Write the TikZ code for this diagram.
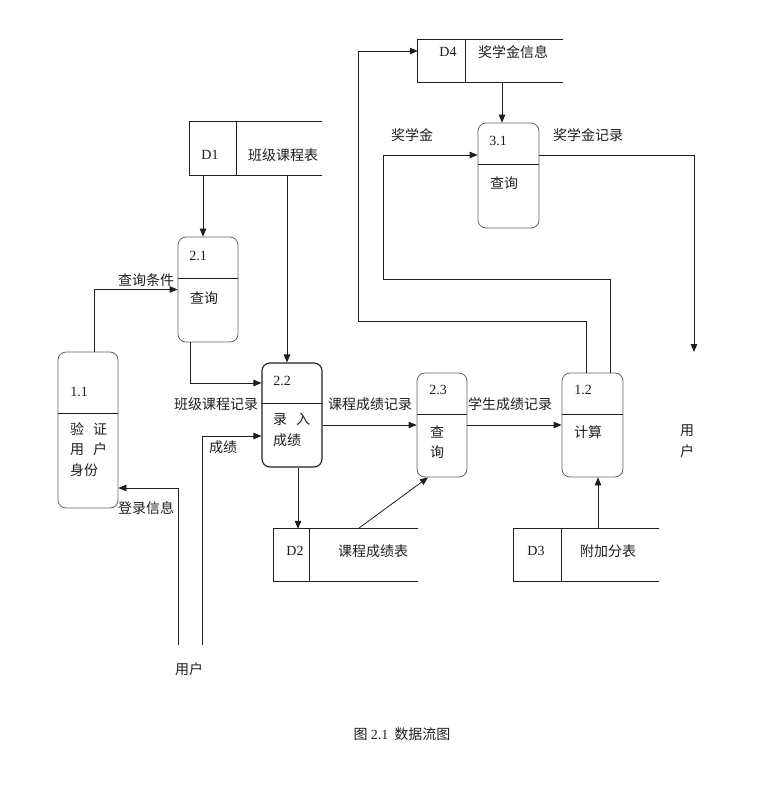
\documentclass[tikz,border=0pt]{standalone}
\usepackage{fontspec}
\setmainfont{Liberation Serif}
\newfontfamily\cjk{Noto Sans CJK SC}
\usetikzlibrary{arrows.meta, positioning}
\definecolor{line1}{RGB}{30,30,30}
\definecolor{box1}{RGB}{100,100,100}
\tikzset{
  proc/.style={draw=box1, rounded corners=8pt, inner sep=0pt, line width=0.8pt},
  store/.style={inner sep=0pt},
  flow/.style={draw=line1, line width=0.8pt, -{Triangle[length=8pt,width=6.5pt]}},
  edge1/.style={draw=line1, line width=0.8pt},
  num/.style={font=\fontsize{14}{20}\selectfont, text=line1, inner sep=0pt},
  zh/.style={font=\cjk\fontsize{14}{20.5}\selectfont, text=line1, inner sep=0pt},
}

\begin{document}
\begin{tikzpicture}[x=1pt, y=-1pt]
  \useasboundingbox (0,0) rectangle (772,788);

  % processes
  \node[proc, minimum width=60pt, minimum height=156pt] (p11) at (88,430) {};
  \node[proc, minimum width=60pt, minimum height=105pt] (p21) at (208,289.5) {};
  \node[proc, draw=line1, line width=1.1pt, minimum width=60pt, minimum height=104pt] (p22) at (292,415) {};
  \node[proc, minimum width=50pt, minimum height=104pt] (p23) at (442,425) {};
  \node[proc, minimum width=61pt, minimum height=104pt] (p12) at (592.5,425) {};
  \node[proc, minimum width=61pt, minimum height=105pt] (p31) at (508.5,175.5) {};
  \foreach \p/\dy in {p11/62, p21/42, p22/41, p23/42, p12/42, p31/42}
    \draw[edge1] ([yshift=-\dy pt]\p.north west) -- ([yshift=-\dy pt]\p.north east);

  % data stores
  \node[store, minimum width=132pt, minimum height=53pt] (d1) at (256,148.5) {};
  \node[store, minimum width=145pt, minimum height=42pt] (d4) at (490.5,61) {};
  \node[store, minimum width=144pt, minimum height=52pt] (d2) at (346,555) {};
  \node[store, minimum width=145pt, minimum height=52pt] (d3) at (586.5,555) {};
  \foreach \s/\dx in {d1/47, d4/48, d2/36, d3/48} {
    \draw[edge1] (\s.north east) -- (\s.north west) -- (\s.south west) -- (\s.south east);
    \draw[edge1] ([xshift=\dx pt]\s.north west) -- ([xshift=\dx pt]\s.south west);
  }

  % texts in boxes
  \node[num] (n11) at (79,392) {1.1};
  \node[zh, align=left, anchor=north west] (t11) at (70,422) {验\hspace{9pt}证\\用\hspace{9pt}户\\身份};
  \node[num] (n21) at (198,256) {2.1};
  \node[zh] (t21) at (204,298) {查询};
  \node[num] (n22) at (282,381) {2.2};
  \node[zh, align=left, anchor=north west] (t22) at (273,413) {录\hspace{9pt}入\\成绩};
  \node[num] (n23) at (438,390) {2.3};
  \node[zh, align=center] (t23) at (437,442) {查\\询};
  \node[num] (n12) at (583,390) {1.2};
  \node[zh] (t12) at (588,432) {计算};
  \node[num] (n31) at (498,141) {3.1};
  \node[zh] (t31) at (504,183) {查询};
  \node[num] (nd1) at (210,155) {D1};
  \node[zh] (td1) at (283,155) {班级课程表};
  \node[num] (nd4) at (448,52) {D4};
  \node[zh] (td4) at (513,52) {奖学金信息};
  \node[num] (nd2) at (295,551) {D2};
  \node[zh] (td2) at (373,551) {课程成绩表};
  \node[num] (nd3) at (536,551) {D3};
  \node[zh] (td3) at (608,551) {附加分表};

  % flow labels
  \node[zh] (l1) at (146,280) {查询条件};
  \node[zh] (l2) at (216,404) {班级课程记录};
  \node[zh] (l3) at (223,447) {成绩};
  \node[zh] (l4) at (146,508) {登录信息};
  \node[zh] (l5) at (370,404) {课程成绩记录};
  \node[zh] (l6) at (510,404) {学生成绩记录};
  \node[zh] (l7) at (412,135) {奖学金};
  \node[zh] (l8) at (588,135) {奖学金记录};
  \node[zh, align=center] (user2) at (687,441) {用\\户};
  \node[zh] (user1) at (189,669) {用户};
  \node[zh] (cap) at (402,734) {图 {\rmfamily 2.1}\hspace{6pt}数据流图};

  \coordinate (u1) at (178,645);
  \coordinate (u2) at (202,645);
  \coordinate (u3) at (694,352);
  \coordinate (k1) at (358,321);
  \coordinate (k2) at (383,279);

  % flows
  \draw[flow] ([xshift=-5pt]p21.north |- d1.south) -- ([xshift=-5pt]p21.north);
  \draw[flow] ([xshift=-5pt]p22.north |- d1.south) -- ([xshift=-5pt]p22.north);
  \draw[flow] ([xshift=6pt]p11.north) |- (p21.west);
  \draw[flow] ([xshift=-18pt]p21.south) |- ([yshift=32pt]p22.west);
  \draw[flow] (u2) |- ([yshift=-21pt]p22.west);
  \draw[flow] (u1) |- ([yshift=-58pt]p11.east);
  \draw[flow] (p22.east |- p23.west) -- (p23.west);
  \draw[flow] (p23.east) -- (p12.west);
  \draw[flow] ([xshift=6pt]p22.south) -- ([xshift=6pt]p22.south |- d2.north);
  \draw[flow] ([xshift=12pt]d2.north) -- ([xshift=-14pt]p23.south);
  \draw[flow] ([xshift=5.5pt]p12.south |- d3.north) -- ([xshift=5.5pt]p12.south);
  \draw[flow] ([xshift=-6.5pt]p12.north) |- (k1) |- ([yshift=10pt]d4.west);
  \draw[flow] ([xshift=17.5pt]p12.north) |- (k2) |- ([yshift=20.5pt]p31.west);
  \draw[flow] ([xshift=-6.5pt]p31.north |- d4.south) -- ([xshift=-6.5pt]p31.north);
  \draw[flow] ([yshift=20.5pt]p31.east) -| (u3);
\end{tikzpicture}
\end{document}
